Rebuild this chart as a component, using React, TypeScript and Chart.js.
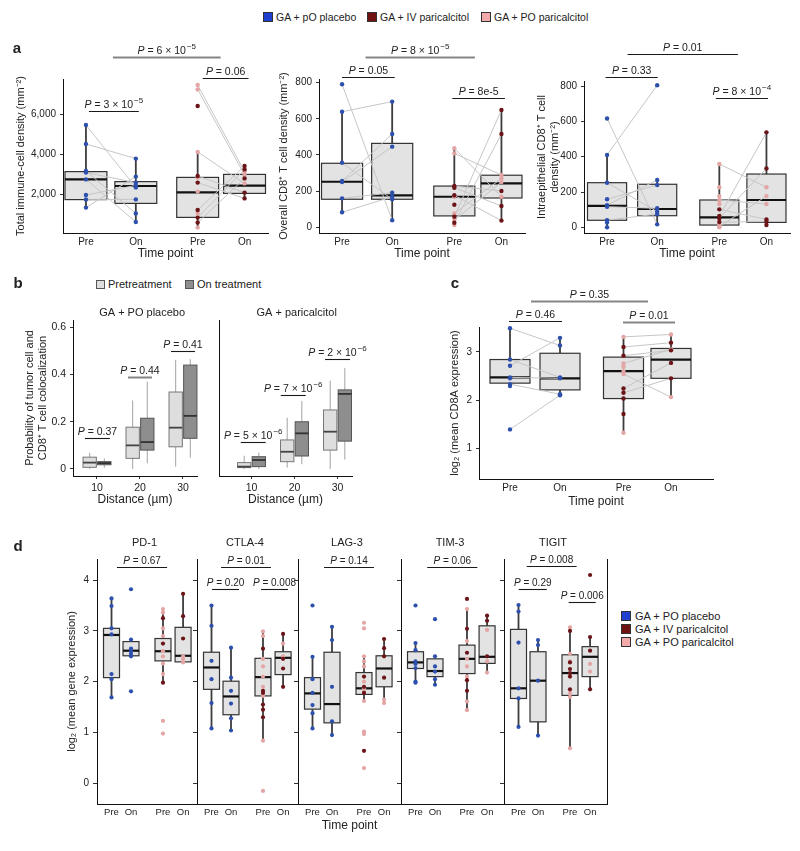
import React, { useEffect, useRef } from 'react';
import { Chart, registerables } from 'chart.js';

Chart.register(...registerables);

const FONT = "'Liberation Sans', Arial, sans-serif";
const INK = '#222222';
const BLUE = '#2d50ad';
const DARK = '#6c1519';
const PINK = '#e4a5a5';
const PAIR_LINE = '#c6c6c6';

// ---------- categories and tick labels ----------
const timeLabels = ['Pre', 'On', 'Pre', 'On'];
const distances = [10, 20, 30];
const distanceLabels = ['10', '20', '30'];
const genes = ['PD-1', 'CTLA-4', 'LAG-3', 'TIM-3', 'TIGIT'];

// x placement of the four time-point columns (axis units)
const aPositions = [1, 2, 3.24, 4.18];
const cPositions = [1, 2, 3.27, 4.22];
const dPositions = [1, 2, 3.64, 4.67];

// Box statistics are [lower whisker, Q1, median, Q3, upper whisker],
// listed Pre (placebo), On (placebo), Pre (paricalcitol), On (paricalcitol).
// Paired samples share an index in the Pre/On arrays; unpaired ones come last.

// ---------- a: total immune-cell density ----------
const aTotalPlaceboPre = [5450, 4500, 3150, 3070, 2730, 1950, 1730, 1320];
const aTotalPlaceboOn = [2330, 3770, 1030, 2570, 600, 2430, 1730, 2870];
const aTotalIvPre = [2900, 2570, 1200, 820, 570, 6400];
const aTotalIvOn = [2070, 1780, 3400, 3230, 2780];
const aTotalPoPre = [7450, 7230, 4100, 2820, 2120, 1030, 320];
const aTotalPoOn = [3120, 2950, 2530];
const aTotalBoxes = [
  [1320, 1720, 2730, 3120, 5450],
  [600, 1530, 2400, 2620, 3770],
  [320, 830, 2080, 2830, 4100],
  [1780, 2030, 2420, 2980, 3400],
];
const aTotalTests = [
  { x1: 1.06, x2: 2.06, y: 6170, label: 'P = 3 × 10^−5' },
  { x1: 3.34, x2: 4.26, y: 7780, label: 'P = 0.06' },
  { x1: 1.54, x2: 3.7, y: 8870, label: 'P = 6 × 10^−5', grey: true },
];

// ---------- a: overall CD8+ T cell density ----------
const aCd8PlaceboPre = [791, 639, 357, 256, 250, 160, 83];
const aCd8PlaceboOn = [39, 695, 155, 516, 446, 191, 169];
const aCd8IvPre = [59, 25, 228, 219, 177, 125];
const aCd8IvOn = [649, 516, 201, 118, 37];
const aCd8PoPre = [437, 409, 77, 40, 169, 13];
const aCd8PoOn = [169, 289, 270, 250];
const aCd8Boxes = [
  [83, 155, 252, 354, 639],
  [39, 155, 177, 464, 695],
  [13, 63, 169, 228, 437],
  [37, 162, 243, 288, 649],
];
const aCd8Tests = [
  { x1: 1.0, x2: 2.05, y: 830, label: 'P = 0.05' },
  { x1: 3.2, x2: 4.25, y: 713, label: 'P = 8e-5' },
  { x1: 1.47, x2: 3.65, y: 943, label: 'P = 8 × 10^−5', grey: true },
];

// ---------- a: intraepithelial CD8+ T cell density ----------
const aIntraPlaceboPre = [617, 410, 253, 159, 126, 117, 41, 28, 0];
const aIntraPlaceboOn = [17, 805, 89, 240, 268, 108, 75];
const aIntraIvPre = [64, 51, 102, 30];
const aIntraIvOn = [538, 334, 45, 32, 13];
const aIntraPoPre = [359, 5, 155, 227, 177, 132, 13, 0];
const aIntraPoOn = [227, 177, 132];
const aIntraBoxes = [
  [0, 40, 122, 253, 410],
  [17, 66, 104, 244, 268],
  [0, 13, 57, 155, 359],
  [13, 28, 155, 302, 538],
];
const aIntraTests = [
  { x1: 0.97, x2: 2.01, y: 850, label: 'P = 0.33' },
  { x1: 3.17, x2: 4.21, y: 731, label: 'P = 8 × 10^−4' },
  { x1: 1.41, x2: 3.61, y: 982, label: 'P = 0.01' },
];

// ---------- b: tumour cell / CD8+ T cell colocalization by distance ----------
const bPlaceboPre = [[0, 0.007, 0.027, 0.05, 0.069], [0, 0.045, 0.1, 0.177, 0.29], [0.01, 0.094, 0.175, 0.326, 0.462]];
const bPlaceboOn = [[0.005, 0.018, 0.025, 0.031, 0.045], [0.024, 0.08, 0.114, 0.215, 0.37], [0.048, 0.13, 0.225, 0.44, 0.465]];
const bParicalcitolPre = [[0, 0.006, 0.01, 0.027, 0.056], [0.006, 0.031, 0.073, 0.123, 0.217], [0, 0.08, 0.158, 0.25, 0.374]];
const bParicalcitolOn = [[0, 0.01, 0.038, 0.052, 0.07], [0.02, 0.055, 0.151, 0.2, 0.288], [0.04, 0.118, 0.318, 0.335, 0.427]];
const bPlaceboTests = [
  { x1: 7.2, x2: 13.0, y: 0.13, label: 'P = 0.37' },
  { x1: 17.2, x2: 22.8, y: 0.39, label: 'P = 0.44', grey: true },
  { x1: 27.2, x2: 32.8, y: 0.5, label: 'P = 0.41' },
];
const bParicalcitolTests = [
  { x1: 7.5, x2: 13.3, y: 0.113, label: 'P = 5 × 10^−6' },
  { x1: 16.8, x2: 22.6, y: 0.312, label: 'P = 7 × 10^−6' },
  { x1: 27.1, x2: 32.9, y: 0.465, label: 'P = 2 × 10^−6' },
];

// ---------- c: CD8A expression ----------
const cPlaceboPre = [2.71, 2.47, 2.33, 1.39, 3.49, 2.84, 2.45, 2.29];
const cPlaceboOn = [3.29, 2.45, 2.12, 2.1, 3.13, 2.47];
const cIvPre = [3.1, 2.24, 2.15, 2.92, 2.03, 1.71];
const cIvOn = [3.19, 2.77, 2.45, 3.03];
const cPoPre = [3.31, 2.76, 2.54, 2.69, 2.6, 1.32];
const cPoOn = [3.36, 3.05, 2.06];
const cBoxes = [
  [2.29, 2.35, 2.47, 2.84, 3.49],
  [2.1, 2.21, 2.45, 2.97, 3.29],
  [1.32, 2.03, 2.6, 2.89, 3.31],
  [2.06, 2.45, 2.84, 3.07, 3.36],
];
const cTests = [
  { x1: 0.98, x2: 2.04, y: 3.645, label: 'P = 0.46' },
  { x1: 3.26, x2: 4.3, y: 3.62, label: 'P = 0.01', grey: true },
  { x1: 1.42, x2: 3.76, y: 4.06, label: 'P = 0.35', grey: true },
];

// ---------- d: checkpoint gene expression ----------
const dPd1PlaceboPre = [3.64, 3.49, 3.05, 2.93, 2.15, 2.05, 1.69];
const dPd1PlaceboOn = [3.82, 2.83, 2.65, 2.6, 2.55, 2.5, 1.81];
const dPd1IvPre = [3.25, 2.75, 1.98];
const dPd1IvOn = [3.73, 3.29, 2.85];
const dPd1PoPre = [3.43, 3.36, 3.05, 2.9, 2.6, 2.5, 2.36, 2.15, 1.23, 0.98];
const dPd1PoOn = [2.5, 2.45, 2.38];
const dPd1Boxes = [[1.69, 2.08, 2.92, 3.05, 3.64], [2.5, 2.51, 2.61, 2.79, 2.83], [1.98, 2.41, 2.6, 2.85, 3.43], [2.39, 2.39, 2.51, 3.07, 3.73]];
const dPd1Tests = [{ x1: 1.28, x2: 3.85, y: 4.26, label: 'P = 0.67' }];

const dCtla4PlaceboPre = [3.5, 3.1, 2.41, 2.05, 1.58, 1.08];
const dCtla4PlaceboOn = [2.67, 2.08, 1.82, 1.57, 1.28, 1.04];
const dCtla4IvPre = [2.65, 1.82, 1.78, 1.55, 1.45, 1.3];
const dCtla4IvOn = [2.94, 2.45, 2.26, 1.9];
const dCtla4PoPre = [2.99, 2.9, 2.45, 2.3, 2.1, 1.9, 1.72, 0.84, -0.15];
const dCtla4PoOn = [2.75, 2.5];
const dCtla4Boxes = [[1.08, 1.85, 2.28, 2.58, 3.5], [1.04, 1.35, 1.71, 2.01, 2.67], [0.84, 1.72, 2.09, 2.46, 2.99], [1.9, 2.14, 2.47, 2.59, 2.94]];
const dCtla4Tests = [
  { x1: 1.03, x2: 2.41, y: 3.82, label: 'P = 0.20' },
  { x1: 3.54, x2: 4.92, y: 3.82, label: 'P = 0.008' },
  { x1: 1.49, x2: 4.05, y: 4.26, label: 'P = 0.01' },
];

const dLag3PlaceboPre = [3.5, 2.49, 2.05, 1.78, 1.54, 1.38, 1.08];
const dLag3PlaceboOn = [3.08, 2.82, 1.9, 1.22, 0.95];
const dLag3IvPre = [2.1, 1.9, 1.78, 0.64];
const dLag3IvOn = [2.84, 2.66, 2.5, 2.08];
const dLag3PoPre = [3.16, 3.05, 2.5, 2.4, 2.3, 2.0, 1.87, 1.8, 1.62, 1.02, 0.97, 0.3];
const dLag3PoOn = [1.65, 1.58];
const dLag3Boxes = [[1.08, 1.46, 1.77, 2.08, 2.49], [0.95, 1.19, 1.56, 2.58, 3.08], [1.62, 1.75, 1.87, 2.18, 2.5], [1.58, 1.9, 2.26, 2.51, 2.84]];
const dLag3Tests = [{ x1: 1.59, x2: 4.15, y: 4.26, label: 'P = 0.14' }];

const dTim3PlaceboPre = [3.5, 2.76, 2.62, 2.4, 2.35, 2.27, 2.0, 1.98];
const dTim3PlaceboOn = [3.23, 2.5, 2.3, 2.2, 2.05, 1.94];
const dTim3IvPre = [3.63, 3.04, 2.57, 2.03, 1.82];
const dTim3IvOn = [3.3, 3.2, 2.5];
const dTim3PoPre = [3.43, 2.8, 2.45, 2.3, 2.1, 1.61, 1.44];
const dTim3PoOn = [3.02, 2.4, 2.18];
const dTim3Boxes = [[1.98, 2.26, 2.38, 2.59, 2.76], [1.94, 2.1, 2.21, 2.45, 2.51], [1.44, 2.16, 2.45, 2.72, 3.43], [2.18, 2.36, 2.49, 3.1, 3.3]];
const dTim3Tests = [{ x1: 1.6, x2: 4.17, y: 4.26, label: 'P = 0.06' }];

const dTigitPlaceboPre = [3.51, 3.38, 2.77, 1.87, 1.67, 1.11];
const dTigitPlaceboOn = [2.82, 2.72, 2.02, 0.94];
const dTigitIvPre = [3.0, 2.38, 2.25, 2.17, 2.1, 1.85];
const dTigitIvOn = [4.1, 2.88, 2.61, 1.85];
const dTigitPoPre = [3.07, 2.55, 2.4, 1.78, 1.7, 0.69];
const dTigitPoOn = [2.35, 2.2];
const dTigitBoxes = [[1.11, 1.67, 1.87, 3.03, 3.51], [0.94, 1.21, 2.02, 2.59, 2.82], [0.69, 1.73, 2.17, 2.53, 3.07], [1.85, 2.1, 2.49, 2.69, 2.88]];
const dTigitTests = [
  { x1: 1.01, x2: 2.45, y: 3.82, label: 'P = 0.29' },
  { x1: 3.57, x2: 4.96, y: 3.57, label: 'P = 0.006' },
  { x1: 1.42, x2: 3.98, y: 4.27, label: 'P = 0.008' },
];

// ---------- types ----------
type Stat = number[];
interface Bracket { x1: number; x2: number; y: number; label: string; grey?: boolean }
interface BoxStyle { fill: string; stroke: string; lw: number; med: string; medW: number; whisk: string; whiskW: number }
interface BoxItem { x: number; s: Stat; w: number; st: BoxStyle }
interface Cohort { placeboPre: number[]; placeboOn: number[]; ivPre: number[]; ivOn: number[]; poPre: number[]; poOn: number[] }
interface Panel {
  id: string;
  area: number[]; // left, top, right, bottom of the plotting area in page px
  yW: number;
  xH: number;
  padTop: number;
  padRight: number;
  xRange: number[];
  xTicks: number[];
  xLabels: string[];
  xTickLen: number;
  xFont: number;
  yRange: number[];
  yTicks: number[];
  yLabel: (v: number) => string;
  yTickLen: number;
  yFont: number;
  yTitle?: string | string[];
  xTitle?: string;
  datasets: any[];
  boxes: BoxItem[];
  brackets: Bracket[];
  pSize: number;
  header?: { text: string; x: number; dy: number };
  rightBorder?: boolean;
}

const boxGrey: BoxStyle = { fill: '#e3e3e3', stroke: '#333333', lw: 1.2, med: '#111111', medW: 2.2, whisk: '#3d3d3d', whiskW: 1.8 };
const boxPre: BoxStyle = { fill: '#dedede', stroke: '#777777', lw: 1, med: '#444444', medW: 1.8, whisk: '#a3a3a3', whiskW: 1 };
const boxOn: BoxStyle = { fill: '#8e8e8e', stroke: '#555555', lw: 1, med: '#333333', medW: 1.8, whisk: '#a3a3a3', whiskW: 1 };

// ---------- dataset builders ----------
function pointSet(x: number, ys: number[], color: string, r: number) {
  return {
    data: ys.map((y) => ({ x, y })),
    pointRadius: r,
    pointHoverRadius: r,
    pointBackgroundColor: color,
    pointBorderWidth: 0,
    showLine: false,
    order: 1,
    clip: false,
  };
}

function pairSet(groups: [number, number[], number, number[]][]) {
  const data: any[] = [];
  for (const [x1, pre, x2, on] of groups) {
    const n = Math.min(pre.length, on.length);
    for (let i = 0; i < n; i++) data.push({ x: x1, y: pre[i] }, { x: x2, y: on[i] }, { x: x2, y: null });
  }
  return { data, showLine: true, borderColor: PAIR_LINE, borderWidth: 1, pointRadius: 0, spanGaps: false, order: 2, clip: false };
}

function cohortSets(c: Cohort, pos: number[], paired: boolean, r: number) {
  const sets: any[] = [];
  if (paired) {
    sets.push(pairSet([
      [pos[0], c.placeboPre, pos[1], c.placeboOn],
      [pos[2], c.ivPre, pos[3], c.ivOn],
      [pos[2], c.poPre, pos[3], c.poOn],
    ]));
  }
  sets.push(
    pointSet(pos[2], c.ivPre, DARK, r),
    pointSet(pos[3], c.ivOn, DARK, r),
    pointSet(pos[2], c.poPre, PINK, r),
    pointSet(pos[3], c.poOn, PINK, r),
    pointSet(pos[0], c.placeboPre, BLUE, r),
    pointSet(pos[1], c.placeboOn, BLUE, r),
  );
  return sets;
}

function cohortBoxes(stats: Stat[], pos: number[], w: number): BoxItem[] {
  return stats.map((s, i) => ({ x: pos[i], s, w, st: boxGrey }));
}

function dodgedBoxes(pre: Stat[], on: Stat[]): BoxItem[] {
  const out: BoxItem[] = [];
  distances.forEach((d, i) => {
    out.push({ x: d - 1.7, s: pre[i], w: 3.1, st: boxPre }, { x: d + 1.7, s: on[i], w: 3.1, st: boxOn });
  });
  return out;
}

// ---------- drawing helpers ----------
function drawPLabel(ctx: CanvasRenderingContext2D, label: string, cx: number, baseline: number, size: number) {
  const [main, sup] = label.split('^');
  const rest = main.slice(1);
  const fi = `italic ${size}px ${FONT}`;
  const fn = `${size}px ${FONT}`;
  const fs = `${Math.round(size * 0.72)}px ${FONT}`;
  ctx.font = fi;
  const w1 = ctx.measureText('P').width;
  ctx.font = fn;
  const w2 = ctx.measureText(rest).width;
  ctx.font = fs;
  const w3 = sup ? ctx.measureText(sup).width + 1 : 0;
  let x = cx - (w1 + w2 + w3) / 2;
  ctx.fillStyle = INK;
  ctx.textAlign = 'left';
  ctx.textBaseline = 'alphabetic';
  ctx.font = fi;
  ctx.fillText('P', x, baseline);
  x += w1;
  ctx.font = fn;
  ctx.fillText(rest, x, baseline);
  x += w2;
  if (sup) {
    ctx.font = fs;
    ctx.fillText(sup, x + 1, baseline - size * 0.42);
  }
}

function decor(p: Panel) {
  return {
    id: 'decor-' + p.id,
    beforeDatasetsDraw(chart: any) {
      const { ctx } = chart;
      const xs = chart.scales.x;
      const ys = chart.scales.y;
      ctx.save();
      for (const b of p.boxes) {
        const cx = xs.getPixelForValue(b.x);
        const hw = Math.abs(xs.getPixelForValue(b.x + b.w / 2) - cx);
        const [lo, q1, md, q3, hi] = b.s.map((v) => ys.getPixelForValue(v));
        const st = b.st;
        ctx.strokeStyle = st.whisk;
        ctx.lineWidth = st.whiskW;
        ctx.beginPath();
        ctx.moveTo(cx, q3);
        ctx.lineTo(cx, hi);
        ctx.moveTo(cx, q1);
        ctx.lineTo(cx, lo);
        ctx.stroke();
        ctx.fillStyle = st.fill;
        ctx.fillRect(cx - hw, q3, hw * 2, q1 - q3);
        ctx.strokeStyle = st.stroke;
        ctx.lineWidth = st.lw;
        ctx.strokeRect(cx - hw, q3, hw * 2, q1 - q3);
        ctx.strokeStyle = st.med;
        ctx.lineWidth = st.medW;
        ctx.beginPath();
        ctx.moveTo(cx - hw, md);
        ctx.lineTo(cx + hw, md);
        ctx.stroke();
      }
      ctx.restore();
    },
    afterDraw(chart: any) {
      const { ctx, chartArea } = chart;
      const xs = chart.scales.x;
      const ys = chart.scales.y;
      ctx.save();
      for (const br of p.brackets) {
        const x1 = xs.getPixelForValue(br.x1);
        const x2 = xs.getPixelForValue(br.x2);
        const y = Math.round(ys.getPixelForValue(br.y)) + 0.5;
        ctx.strokeStyle = br.grey ? '#858585' : '#1a1a1a';
        ctx.lineWidth = br.grey ? 2 : 1.1;
        ctx.beginPath();
        ctx.moveTo(x1, y);
        ctx.lineTo(x2, y);
        ctx.stroke();
        drawPLabel(ctx, br.label, (x1 + x2) / 2, y - 4, p.pSize);
      }
      if (p.header) {
        ctx.font = `11px ${FONT}`;
        ctx.fillStyle = INK;
        ctx.textAlign = 'center';
        ctx.textBaseline = 'middle';
        ctx.fillText(p.header.text, xs.getPixelForValue(p.header.x), chartArea.top - p.header.dy);
      }
      if (p.rightBorder) {
        ctx.strokeStyle = '#111';
        ctx.lineWidth = 1;
        const x = Math.round(chartArea.right) + 0.5;
        ctx.beginPath();
        ctx.moveTo(x, chartArea.top);
        ctx.lineTo(x, chartArea.bottom);
        ctx.stroke();
      }
      ctx.restore();
    },
  };
}

function buildConfig(p: Panel): any {
  return {
    type: 'scatter',
    data: { datasets: p.datasets },
    options: {
      responsive: false,
      animation: false,
      devicePixelRatio: 1,
      events: [],
      layout: { padding: { top: p.padTop, right: p.padRight, bottom: 0, left: 0 }, autoPadding: false },
      plugins: { legend: { display: false }, tooltip: { enabled: false }, title: { display: false } },
      scales: {
        x: {
          type: 'linear',
          min: p.xRange[0],
          max: p.xRange[1],
          afterBuildTicks: (s: any) => {
            s.ticks = p.xTicks.map((value) => ({ value }));
          },
          afterFit: (s: any) => {
            s.height = p.xH;
          },
          ticks: {
            callback: (_v: any, i: number) => p.xLabels[i],
            color: INK,
            font: { family: FONT, size: p.xFont },
            padding: 3,
            maxRotation: 0,
            minRotation: 0,
            autoSkip: false,
          },
          grid: { drawOnChartArea: false, drawTicks: p.xTickLen > 0, tickLength: p.xTickLen, color: '#333' },
          border: { display: true, color: '#111', width: 1 },
          title: { display: !!p.xTitle, text: p.xTitle || '', color: INK, font: { family: FONT, size: 12 }, padding: 0 },
        },
        y: {
          type: 'linear',
          min: p.yRange[0],
          max: p.yRange[1],
          afterBuildTicks: (s: any) => {
            s.ticks = p.yTicks.map((value) => ({ value }));
          },
          afterFit: (s: any) => {
            s.width = p.yW;
          },
          ticks: {
            callback: (v: any) => p.yLabel(Number(v)),
            color: INK,
            font: { family: FONT, size: p.yFont },
            padding: 4,
          },
          grid: { drawOnChartArea: false, drawTicks: p.yTickLen > 0, tickLength: p.yTickLen, color: '#333' },
          border: { display: true, color: '#111', width: 1 },
          title: { display: !!p.yTitle, text: p.yTitle || '', color: INK, font: { family: FONT, size: 11 }, padding: 0 },
        },
      },
    },
    plugins: [decor(p)],
  };
}

// ---------- panel definitions ----------
const thousands = (v: number) => v.toLocaleString('en-US');
const plain = (v: number) => String(v);
const oneDecimal = (v: number) => (v === 0 ? '0' : v.toFixed(1));
const blank = () => '';

const aTotal: Cohort = { placeboPre: aTotalPlaceboPre, placeboOn: aTotalPlaceboOn, ivPre: aTotalIvPre, ivOn: aTotalIvOn, poPre: aTotalPoPre, poOn: aTotalPoOn };
const aCd8: Cohort = { placeboPre: aCd8PlaceboPre, placeboOn: aCd8PlaceboOn, ivPre: aCd8IvPre, ivOn: aCd8IvOn, poPre: aCd8PoPre, poOn: aCd8PoOn };
const aIntra: Cohort = { placeboPre: aIntraPlaceboPre, placeboOn: aIntraPlaceboOn, ivPre: aIntraIvPre, ivOn: aIntraIvOn, poPre: aIntraPoPre, poOn: aIntraPoOn };
const cCd8a: Cohort = { placeboPre: cPlaceboPre, placeboOn: cPlaceboOn, ivPre: cIvPre, ivOn: cIvOn, poPre: cPoPre, poOn: cPoOn };

const dCohorts: Cohort[] = [
  { placeboPre: dPd1PlaceboPre, placeboOn: dPd1PlaceboOn, ivPre: dPd1IvPre, ivOn: dPd1IvOn, poPre: dPd1PoPre, poOn: dPd1PoOn },
  { placeboPre: dCtla4PlaceboPre, placeboOn: dCtla4PlaceboOn, ivPre: dCtla4IvPre, ivOn: dCtla4IvOn, poPre: dCtla4PoPre, poOn: dCtla4PoOn },
  { placeboPre: dLag3PlaceboPre, placeboOn: dLag3PlaceboOn, ivPre: dLag3IvPre, ivOn: dLag3IvOn, poPre: dLag3PoPre, poOn: dLag3PoOn },
  { placeboPre: dTim3PlaceboPre, placeboOn: dTim3PlaceboOn, ivPre: dTim3IvPre, ivOn: dTim3IvOn, poPre: dTim3PoPre, poOn: dTim3PoOn },
  { placeboPre: dTigitPlaceboPre, placeboOn: dTigitPlaceboOn, ivPre: dTigitIvPre, ivOn: dTigitIvOn, poPre: dTigitPoPre, poOn: dTigitPoOn },
];
const dBoxes = [dPd1Boxes, dCtla4Boxes, dLag3Boxes, dTim3Boxes, dTigitBoxes];
const dTests = [dPd1Tests, dCtla4Tests, dLag3Tests, dTim3Tests, dTigitTests];
const dEdges = [97, 197, 298, 401, 504, 607];

const aCommon = {
  padRight: 8,
  xRange: [0.54, 4.65],
  xTicks: aPositions,
  xLabels: timeLabels,
  xTickLen: 0,
  xFont: 10,
  yTickLen: 3,
  yFont: 10,
  xTitle: 'Time point',
  xH: 28,
  pSize: 10.5,
};

const panels: Panel[] = [
  {
    ...aCommon,
    id: 'a1',
    area: [63, 79, 268, 233],
    yW: 49,
    padTop: 43,
    yRange: [50, 7750],
    yTicks: [2000, 4000, 6000],
    yLabel: thousands,
    yTitle: 'Total immune-cell density (mm⁻²)',
    datasets: cohortSets(aTotal, aPositions, true, 2.2),
    boxes: cohortBoxes(aTotalBoxes, aPositions, 0.84),
    brackets: aTotalTests,
  },
  {
    ...aCommon,
    id: 'a2',
    area: [319, 79, 525, 233],
    yW: 42,
    padTop: 43,
    yRange: [-31.5, 820],
    yTicks: [0, 200, 400, 600, 800],
    yLabel: plain,
    yTitle: 'Overall CD8⁺ T cell density (mm⁻²)',
    datasets: cohortSets(aCd8, aPositions, true, 2.2),
    boxes: cohortBoxes(aCd8Boxes, aPositions, 0.82),
    brackets: aCd8Tests,
  },
  {
    ...aCommon,
    id: 'a3',
    area: [584, 81, 790, 233],
    yW: 49,
    padTop: 45,
    yRange: [-32, 829],
    yTicks: [0, 200, 400, 600, 800],
    yLabel: plain,
    yTitle: ['Intraepithelial CD8⁺ T cell', 'density (mm⁻²)'],
    datasets: cohortSets(aIntra, aPositions, true, 2.2),
    boxes: cohortBoxes(aIntraBoxes, aPositions, 0.78),
    brackets: aIntraTests,
  },
  {
    id: 'b1',
    area: [73, 320, 197, 476],
    yW: 50,
    xH: 31,
    padTop: 16,
    padRight: 8,
    xRange: [4.42, 33.26],
    xTicks: distances,
    xLabels: distanceLabels,
    xTickLen: 3,
    xFont: 10.5,
    yRange: [-0.0297, 0.631],
    yTicks: [0, 0.2, 0.4, 0.6],
    yLabel: oneDecimal,
    yTickLen: 3,
    yFont: 10.5,
    yTitle: ['Probability of tumor cell and', 'CD8⁺ T cell colocalization'],
    xTitle: 'Distance (µm)',
    datasets: [],
    boxes: dodgedBoxes(bPlaceboPre, bPlaceboOn),
    brackets: bPlaceboTests,
    pSize: 10.5,
    header: { text: 'GA + PO placebo', x: 20.5, dy: 7 },
  },
  {
    id: 'b2',
    area: [219, 320, 352, 476],
    yW: 4,
    xH: 31,
    padTop: 16,
    padRight: 30,
    xRange: [2.44, 33.37],
    xTicks: distances,
    xLabels: distanceLabels,
    xTickLen: 3,
    xFont: 10.5,
    yRange: [-0.0297, 0.631],
    yTicks: [0, 0.2, 0.4, 0.6],
    yLabel: blank,
    yTickLen: 0,
    yFont: 10.5,
    xTitle: 'Distance (µm)',
    datasets: [],
    boxes: dodgedBoxes(bParicalcitolPre, bParicalcitolOn),
    brackets: bParicalcitolTests,
    pSize: 10.5,
    header: { text: 'GA + paricalcitol', x: 20.5, dy: 7 },
  },
  {
    id: 'c',
    area: [479, 327, 713, 479],
    yW: 31,
    xH: 30,
    padTop: 42,
    padRight: 8,
    xRange: [0.38, 5.06],
    xTicks: cPositions,
    xLabels: timeLabels,
    xTickLen: 0,
    xFont: 10,
    yRange: [0.361, 3.515],
    yTicks: [1, 2, 3],
    yLabel: plain,
    yTickLen: 3,
    yFont: 10,
    yTitle: 'log₂ (mean CD8A expression)',
    xTitle: 'Time point',
    datasets: cohortSets(cCd8a, cPositions, true, 2.2),
    boxes: cohortBoxes(cBoxes, cPositions, 0.8),
    brackets: cTests,
    pSize: 10.5,
  },
  ...genes.map((g, i): Panel => {
    const left = dEdges[i];
    const right = dEdges[i + 1];
    return {
      id: 'd' + i,
      area: [left, 559, right, 804],
      yW: i === 0 ? 32 : 5,
      xH: 29,
      padTop: 26,
      padRight: 10,
      xRange: [0.256, 0.256 + (right - left) / 19.5],
      xTicks: dPositions,
      xLabels: timeLabels,
      xTickLen: 0,
      xFont: 9.5,
      yRange: [-0.407, 4.415],
      yTicks: [0, 1, 2, 3, 4],
      yLabel: i === 0 ? plain : blank,
      yTickLen: 4,
      yFont: 10,
      yTitle: i === 0 ? 'log₂ (mean gene expression)' : undefined,
      xTitle: i === 2 ? 'Time point' : undefined,
      datasets: cohortSets(dCohorts[i], dPositions, false, 2.1),
      boxes: cohortBoxes(dBoxes[i], dPositions, 0.82),
      brackets: dTests[i],
      pSize: 10,
      header: { text: g, x: 0.128 + (right - left) / 39, dy: 16 },
      rightBorder: i === genes.length - 1,
    };
  }),
];

// ---------- components ----------
function PanelChart({ p }: { p: Panel }) {
  const ref = useRef<HTMLCanvasElement>(null);
  const [l, t, r, b] = p.area;
  const left = l - p.yW;
  const top = t - p.padTop;
  const width = p.yW + (r - l) + p.padRight;
  const height = p.padTop + (b - t) + p.xH;
  useEffect(() => {
    if (!ref.current) return;
    const chart = new Chart(ref.current, buildConfig(p));
    return () => chart.destroy();
  }, [p]);
  return (
    <canvas
      ref={ref}
      width={width}
      height={height}
      style={{ position: 'absolute', left, top, width, height }}
    />
  );
}

function Txt({ x, y, children, size = 11, bold = false, anchor = 'left' }: any) {
  return (
    <div
      style={{
        position: 'absolute',
        left: x,
        top: y,
        transform: anchor === 'center' ? 'translate(-50%, -50%)' : 'translate(0, -50%)',
        fontSize: size,
        fontWeight: bold ? 700 : 400,
        lineHeight: 1,
        whiteSpace: 'nowrap',
        color: INK,
      }}
    >
      {children}
    </div>
  );
}

function Swatch({ x, y, size, color, border = '#333' }: any) {
  return (
    <div
      style={{
        position: 'absolute',
        left: x,
        top: y - size / 2,
        width: size,
        height: size,
        background: color,
        border: `1px solid ${border}`,
        boxSizing: 'border-box',
      }}
    />
  );
}

const topLegend = [
  { label: 'GA + pO placebo', color: '#1f40cf', x: 263 },
  { label: 'GA + IV paricalcitol', color: '#701212', x: 367 },
  { label: 'GA + PO paricalcitol', color: '#f2a9a9', x: 481 },
];
const sideLegend = [
  { label: 'GA + PO placebo', color: '#1f40cf', y: 615.5 },
  { label: 'GA + IV paricalcitol', color: '#701212', y: 628.5 },
  { label: 'GA + PO paricalcitol', color: '#f2a9a9', y: 641.5 },
];
const timeLegend = [
  { label: 'Pretreatment', color: '#dedede', x: 96 },
  { label: 'On treatment', color: '#8e8e8e', x: 185 },
];

export default function App() {
  return (
    <div
      style={{
        position: 'absolute',
        left: 0,
        top: 0,
        width: 800,
        height: 851,
        background: '#ffffff',
        fontFamily: FONT,
        overflow: 'hidden',
      }}
    >
      {panels.map((p) => (
        <PanelChart key={p.id} p={p} />
      ))}

      {topLegend.map((it) => (
        <React.Fragment key={it.label}>
          <Swatch x={it.x} y={17} size={10} color={it.color} />
          <Txt x={it.x + 13} y={17} size={10.5}>{it.label}</Txt>
        </React.Fragment>
      ))}

      {timeLegend.map((it) => (
        <React.Fragment key={it.label}>
          <Swatch x={it.x} y={284} size={9} color={it.color} border="#555" />
          <Txt x={it.x + 12} y={284} size={11}>{it.label}</Txt>
        </React.Fragment>
      ))}

      {sideLegend.map((it) => (
        <React.Fragment key={it.label}>
          <Swatch x={621} y={it.y} size={10} color={it.color} />
          <Txt x={635} y={it.y} size={11}>{it.label}</Txt>
        </React.Fragment>
      ))}

      <Txt x={17} y={47} size={15} bold anchor="center">a</Txt>
      <Txt x={18} y={282} size={15} bold anchor="center">b</Txt>
      <Txt x={455} y={282} size={15} bold anchor="center">c</Txt>
      <Txt x={18} y={545} size={15} bold anchor="center">d</Txt>
    </div>
  );
}
